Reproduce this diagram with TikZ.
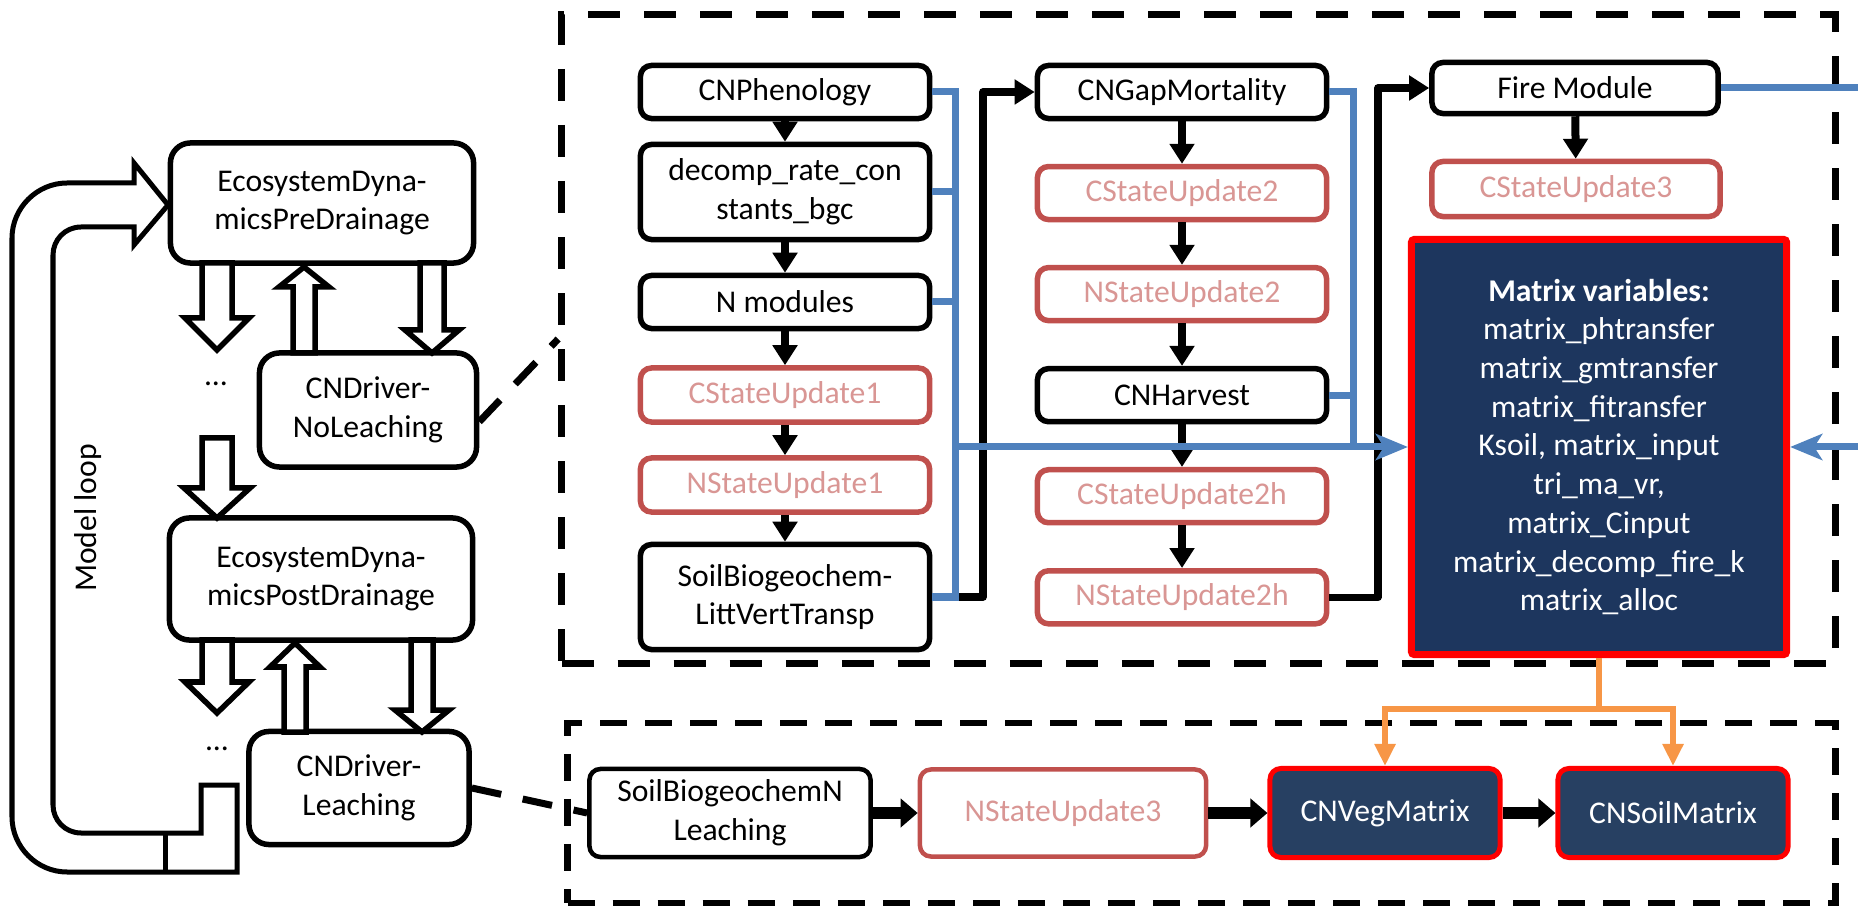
\documentclass[tikz,border=0pt]{standalone}
\usepackage{fontspec}
\setmainfont{Carlito}
\usepackage{tikz}
\usetikzlibrary{arrows.meta}

\definecolor{redline}{HTML}{C0504D}
\definecolor{redtext}{HTML}{D99694}
\definecolor{bluelink}{HTML}{4F81BD}
\definecolor{orangelink}{HTML}{F79646}
\definecolor{navy}{RGB}{29,54,94}
\definecolor{navylight}{RGB}{39,64,98}

\newcommand{\hollowarrow}[6]{%
  \draw[hollow arrow] (#1-#5,#2) -- (#1-#5,#3) -- (#1-#6,#3) -- (#1,#4)
    -- (#1+#6,#3) -- (#1+#5,#3) -- (#1+#5,#2) -- cycle;}

\begin{document}
\begin{tikzpicture}
 [x=0.01cm, y=-0.01cm, node distance=1.01cm,
  every node/.style={font=\fontsize{9}{11}\selectfont, align=center, inner sep=0pt},
  black box/.style={draw, line width=0.055cm, rounded corners=0.11cm, fill=white, minimum width=2.89cm, minimum height=0.53cm},
  red box/.style={black box, draw=redline, text=redtext},
  left box/.style={black box, rounded corners=0.2cm},
  matrix box/.style={draw=red, fill=navy, text=white, line width=0.07cm, rounded corners=0.03cm, minimum width=3.75cm, minimum height=4.15cm},
  veg box/.style={draw=red, fill=navylight, text=white, line width=0.05cm, rounded corners=0.11cm, minimum width=2.3cm, minimum height=0.89cm},
  upper frame/.style={draw, line width=0.07cm, dash pattern=on 0.32cm off 0.24cm, minimum width=12.73cm, minimum height=6.48cm},
  lower frame/.style={draw, line width=0.065cm, dash pattern=on 0.27cm off 0.18cm, minimum width=12.67cm, minimum height=1.8cm},
  col arrow/.style={line width=0.08cm, -{Triangle[length=0.2cm,width=0.24cm]}},
  link arrow/.style={line width=0.075cm, line join=round, -{Triangle[length=0.2cm,width=0.24cm]}},
  fat arrow/.style={line width=0.11cm, -{Triangle[length=0.17cm,width=0.28cm]}},
  blue link/.style={draw=bluelink, line width=0.07cm},
  blue arrow/.style={blue link, -{Stealth[length=0.32cm,width=0.26cm,inset=0.08cm]}},
  orange link/.style={draw=orangelink, line width=0.055cm},
  orange arrow/.style={orange link, -{Triangle[length=0.22cm,width=0.2cm]}},
  dash link/.style={line width=0.07cm, dash pattern=on 0.3cm off 0.22cm},
  hollow arrow/.style={draw, fill=white, line width=0.055cm},
  loop arrow/.style={draw, line width=0.05cm}]

\useasboundingbox (0,0) rectangle (1858,910);

\node[upper frame] (upper) at (1198.5,339) {};
\node[lower frame] (lower) at (1201.5,813) {};

\node[left box, minimum width=3.03cm, minimum height=1.2cm] (pre) at (322,203) {EcosystemDyna-\\micsPreDrainage};
\node[left box, minimum width=2.17cm, minimum height=1.14cm] (nol) at (368,410) {CNDriver-\\NoLeaching};
\node[left box, minimum width=3.03cm, minimum height=1.22cm] (post) at (321,579) {EcosystemDyna-\\micsPostDrainage};
\node[left box, minimum width=2.2cm, minimum height=1.13cm] (lea) at (359,788) {CNDriver-\\Leaching};
\node (dots1) at (216,384) {...};
\node (dots2) at (217,749) {...};
\node[rotate=90] (loop) at (88,518) {Model loop};

\draw[loop arrow] (237,785) -- (237,872) -- (67,872) .. controls (37,872) and (12,847) .. (12,817)
  -- (12,238) .. controls (12,208) and (37,183) .. (67,183) -- (134,183) -- (134,163) -- (168,205)
  -- (134,245) -- (134,227) -- (81,227) .. controls (65,227) and (53,240) .. (53,255)
  -- (53,805) .. controls (53,820) and (65,833) .. (81,833) -- (201,833) -- (201,785) -- cycle;
\draw[loop arrow] (165,833) -- (165,872);

\hollowarrow{217}{263}{318}{350}{15}{32}
\hollowarrow{304}{353}{287}{267}{11}{25}
\hollowarrow{432}{263}{330}{353}{12}{27}
\hollowarrow{217}{438}{488}{518}{15}{33}
\hollowarrow{217}{640}{682}{713}{15}{32}
\hollowarrow{295}{732}{667}{643}{11}{25}
\hollowarrow{422}{640}{710}{732}{11}{27}

\node[black box] (phen) at (785,92) {CNPhenology};
\node[black box, minimum height=0.95cm] (decomp) at (785,192) {decomp\_rate\_con\\stants\_bgc};
\node[black box] (nmod) at (785,302) {N modules};
\node[red box, minimum height=0.54cm] (cs1) at (785,395) {CStateUpdate1};
\node[red box, minimum height=0.54cm] (ns1) at (785,485) {NStateUpdate1};
\node[black box, minimum height=1.05cm] (soilvt) at (785,597) {SoilBiogeochem-\\LittVertTransp};

\node[black box] (gap) at (1182,92) {CNGapMortality};
\node[red box] (cs2) [below of=gap] {CStateUpdate2};
\node[red box] (ns2) [below of=cs2] {NStateUpdate2};
\node[black box] (harv) [below of=ns2] {CNHarvest};
\node[red box] (cs2h) [below of=harv] {CStateUpdate2h};
\node[red box] (ns2h) [below of=cs2h] {NStateUpdate2h};

\node[black box, minimum width=2.86cm, minimum height=0.51cm] (fire) at (1575,88) {Fire Module};
\node[red box, minimum width=2.88cm, minimum height=0.55cm] (cs3) at (1576,189) {CStateUpdate3};
\node[matrix box] (mvars) at (1599,447) {\textbf{Matrix variables:}\\matrix\_phtransfer\\matrix\_gmtransfer\\matrix\_fitransfer\\Ksoil, matrix\_input\\tri\_ma\_vr,\\matrix\_Cinput\\matrix\_decomp\_fire\_k\\matrix\_alloc};

\node[black box, minimum width=2.81cm, minimum height=0.88cm, line width=0.045cm] (soiln) at (730,813) {SoilBiogeochemN\\Leaching};
\node[red box, minimum width=2.86cm, minimum height=0.87cm, line width=0.045cm] (ns3) at (1063,813) {NStateUpdate3};
\node[veg box] (veg) at (1385,813) {CNVegMatrix};
\node[veg box] (soilm) at (1673,813) {CNSoilMatrix};

\coordinate (jog1) at (983,92);
\coordinate (jog2) at (1378,88);
\coordinate (bus1) at (955,447);
\coordinate (bus2) at (1353,447);
\coordinate (fireout) at (1858,88);
\coordinate (rightin) at (1858,447);
\coordinate (osplit) at (1599,709);

\draw[dash link] (nol.-6) -- (upper.west);
\draw[dash link] (lea.east) -- (soiln.west);

\path
  (phen) edge [col arrow] (decomp)
  (decomp) edge [col arrow] (nmod)
  (nmod) edge [col arrow] (cs1)
  (cs1) edge [col arrow] (ns1)
  (ns1) edge [col arrow] (soilvt)
  (gap) edge [col arrow] (cs2)
  (cs2) edge [col arrow] (ns2)
  (ns2) edge [col arrow] (harv)
  (harv) edge [col arrow] (cs2h)
  (cs2h) edge [col arrow] (ns2h)
  (fire) edge [col arrow] (cs3);

\draw[link arrow] (soilvt.east) -| (jog1) -- (gap.west);
\draw[link arrow] (ns2h.east) -| (jog2) -- (fire.west);

\draw[blue link] (phen.east) -| (bus1 |- soilvt.east) -- (soilvt.east);
\draw[blue link] (decomp.east) -- (decomp.east -| bus1);
\draw[blue link] (nmod.east) -- (nmod.east -| bus1);
\draw[blue link] (gap.east) -| (bus2);
\draw[blue link] (harv.east) -- (harv.east -| bus2);
\draw[blue arrow] (bus1) -- (mvars.west);
\draw[blue link] (fire.east) -- (fireout);
\draw[blue arrow] (rightin) -- (mvars.east);

\draw[orange link] (mvars.south) -- (osplit);
\draw[orange arrow] (osplit) -| (veg.north);
\draw[orange arrow] (osplit) -| (soilm.north);

\path
  (soiln) edge [fat arrow] (ns3)
  (ns3) edge [fat arrow] (veg)
  (veg) edge [fat arrow] (soilm);

\end{tikzpicture}
\end{document}
